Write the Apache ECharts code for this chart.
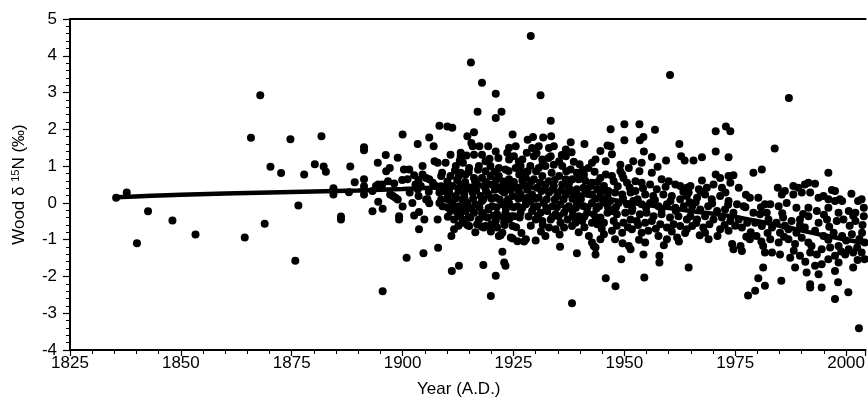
<!DOCTYPE html>
<html>
<head>
<meta charset="utf-8">
<script src="https://cdn.jsdelivr.net/npm/echarts@6/dist/echarts.min.js"></script>
<style>html,body{margin:0;padding:0;background:#fff;}#c{width:868px;height:403px;}</style>
</head>
<body>
<div id="c"></div>
<script>
// Wood d15N samples: [year A.D., value permil]
const samples = [
[1835.4,0.14],[1837.8,0.28],[1840.1,-1.1],[1842.6,-0.23],[1848.1,-0.48],[1853.3,-0.86],[1864.4,-0.94],
[1865.8,1.77],[1867.9,2.93],[1868.9,-0.57],[1870.2,0.98],[1872.6,0.81],[1874.7,1.73],[1875.8,-1.57],
[1876.5,-0.07],[1877.8,0.77],[1880.2,1.05],[1881.7,1.81],[1882.2,0.99],[1882.7,0.85],[1884.4,0.40],
[1884.4,0.23],[1886.1,-0.37],[1886.1,-0.45],[1887.9,0.29],[1888.2,0.99],[1889.2,0.56],[1891.3,1.51],
[1891.3,1.43],[1891.3,0.64],[1891.3,0.23],[1891.3,0.45],[1893.2,-0.23],[1894.4,1.09],[1894.5,0.03],
[1894.5,0.5],[1895.5,-0.16],[1895.5,-2.4],[1896.2,1.3],[1896.3,0.86],[1896.7,0.59],[1897.8,0.19],
[1898.9,1.23],[1898.9,0.09],[1899.2,-0.36],[1899.2,-0.45],[1900,1.86],[1900,-0.1],[1900.3,0.91],
[1900.9,-1.49],[1901.1,0.64],[1901.5,0.91],[1902.2,0.0],[1902.6,-0.34],[1903.4,1.6],[1903.7,-0.72],
[1904.1,0.46],[1904.5,1.0],[1904.7,-1.37],[1904.9,-0.45],[1905.3,0.09],[1906,1.78],[1907,1.54],
[1907.2,1.13],[1907.9,-0.45],[1908,-1.22],[1908.3,2.1],[1908.7,0.73],[1908.7,0.09],[1908.7,0.45],
[1909.7,1.09],[1910.1,2.08],[1911.2,2.04],[1910.8,1.31],[1911,-0.9],[1911.1,-1.85],[1911.6,-0.72],
[1912.7,-1.71],[1913.1,1.36],[1913.1,1.27],[1913.1,0.82],[1913.5,0.09],[1913.5,-0.18],[1913.5,-0.45],
[1914.6,1.81],[1915.4,3.82],[1916.1,1.92],[1915.8,1.54],[1916.9,2.48],[1917.3,1.54],[1917.9,3.27],
[1918.2,-1.69],[1918.3,-0.36],[1918.7,-0.63],[1919.3,1.54],[1919.9,-2.53],[1921,2.97],[1921,2.31],
[1921,-1.98],[1921.7,-0.9],[1922.3,2.48],[1922.5,-1.33],[1923.2,-1.71],[1923.6,0.05],[1924.8,1.86],
[1924.8,-0.97],[1925.9,-1.04],[1927.4,-1.05],[1927.8,-0.99],[1928.9,4.54],[1929.4,1.79],[1930,-1.02],
[1931.1,2.93],[1931.7,1.78],[1932.2,-0.9],[1933.4,2.23],[1933.5,1.81],[1935.5,-1.19],[1936.8,1.45],
[1937.9,1.65],[1938.2,-2.73],[1939.3,-1.37],[1941,1.6],[1942,-0.9],[1943.1,-1.17],[1943.5,-1.4],
[1944.6,1.41],[1945.8,-2.05],[1946.9,2.0],[1946.9,1.54],[1948,-2.27],
[1907.9,1.09],[1897.1,0.95],[1904.5,0.77],[1905.3,0.68],[1908.9,0.82],[1895.4,0.5],[1898.1,0.53],
[1903.6,0.62],[1906,0.64],[1906.8,0.55],[1907.5,0.46],[1894,0.46],[1895,0.41],[1893.2,0.32],
[1897.2,0.23],[1898.4,0.14],[1901.6,0.28],[1903.4,0.37],[1903.6,0.19],[1908.3,0.28],[1909.4,0.32],
[1910.2,0.19],[1905.6,0.1],[1906,-0.01],[1908.3,0.0],[1909,-0.09],[1903.7,-0.25],
[1915.5,1.63],[1924,1.5],[1925.5,1.54],[1914.4,1.29],[1916.1,1.31],[1917.9,1.31],[1918.7,1.13],
[1921,1.4],[1921.6,1.22],[1923.6,1.36],[1924,1.18],[1925.1,1.27],[1927,1.18],[1928,1.36],
[1912,1.0],[1913.6,1.09],[1915,0.95],[1917.2,1.0],[1918.7,0.86],[1919.8,1.0],[1921.7,0.95],
[1923.2,0.91],[1925.5,0.95],[1926.6,1.0],[1928.2,0.86],[1910.8,0.73],[1912.7,0.73],[1914.2,0.77],
[1916.1,0.68],[1917.9,0.68],[1919.8,0.73],[1921.7,0.73],[1924,0.64],[1926.3,0.77],[1927.8,0.68],
[1911.2,0.46],[1913.1,0.5],[1915,0.41],[1916.8,0.5],[1918.3,0.46],[1920.2,0.5],[1922.1,0.41],
[1923.6,0.46],[1925.5,0.41],[1927.4,0.47],[1910.5,0.28],[1912,0.19],[1913.9,0.23],[1915.8,0.28],
[1917.6,0.19],[1919.4,0.23],[1921,0.14],[1922.9,0.28],[1924.8,0.19],[1926.6,0.23],[1928.2,0.14],
[1911.2,0.0],[1912.7,-0.09],[1914.6,0.0],[1916.4,-0.04],[1917.9,0.05],[1920.2,-0.09],[1922.5,-0.04],
[1924,0.0],[1925.9,-0.09],[1927.8,-0.04],[1910.8,-0.22],[1912.4,-0.27],[1914.2,-0.22],[1916.1,-0.27],
[1917.9,-0.27],[1919.4,-0.18],[1921.3,-0.31],[1923.2,-0.27],[1925.1,-0.36],[1926.6,-0.27],
[1911.6,-0.45],[1913.9,-0.49],[1915.3,-0.4],[1917.2,-0.45],[1919.1,-0.4],[1921,-0.49],[1922.9,-0.54],
[1924,-0.45],[1913.5,-0.54],[1915,-0.63],[1916.8,-0.58],[1918.3,-0.67],[1921.3,-0.67],[1922.5,-0.81],
[1924.8,-0.63],[1924.4,-0.94],[1922.1,-0.88],[1922.9,-1.62],[1928.2,1.72],
[1929.2,1.49],[1930.7,1.54],[1933,1.49],[1934.1,1.54],[1936.8,1.27],[1946.2,1.56],[1929.6,1.27],
[1931.5,1.18],[1933.4,1.27],[1935.3,1.13],[1942.7,1.09],[1943.5,1.18],[1945.8,1.13],[1928.8,1.0],
[1930.7,0.95],[1932.2,1.0],[1934.1,1.04],[1936,1.0],[1937.9,0.91],[1939.3,0.82],[1940.9,0.77],
[1944.6,0.68],[1945.8,0.77],[1929.6,0.64],[1931.5,0.73],[1933,0.59],[1935.3,0.73],[1936.8,0.64],
[1938.3,0.64],[1939.7,0.64],[1942.7,0.55],[1928.5,0.46],[1930.3,0.41],[1932.2,0.5],[1934.1,0.46],
[1936,0.5],[1937.5,0.41],[1939.3,0.37],[1940.8,0.41],[1942.4,0.46],[1943.9,0.37],[1945.4,0.46],
[1929.2,0.23],[1930.7,0.14],[1933,0.28],[1934.9,0.19],[1936.8,0.23],[1939,0.19],[1941.2,0.28],
[1942.7,0.23],[1944.6,0.28],[1946.2,0.19],[1928.8,0.05],[1930.3,-0.09],[1931.8,0.0],[1933.8,-0.09],
[1935.6,-0.04],[1937.5,-0.09],[1939.3,0.0],[1940.8,-0.09],[1942.7,0.0],[1944.3,-0.09],[1945.8,0.0],
[1929.2,-0.22],[1931.1,-0.27],[1932.6,-0.22],[1934.5,-0.31],[1936.4,-0.27],[1938.3,-0.22],
[1939.7,-0.36],[1941.6,-0.27],[1943.1,-0.31],[1944.6,-0.4],[1946.2,-0.27],[1930,-0.45],[1931.5,-0.49],
[1933.4,-0.45],[1935.6,-0.54],[1937.2,-0.45],[1939,-0.54],[1940.5,-0.49],[1942.7,-0.54],[1943.9,-0.58],
[1945.4,-0.54],[1933,-0.67],[1934.5,-0.72],[1936.4,-0.67],[1942.7,-1.08],[1943.5,-1.21],[1944.6,-0.99],
[1945.4,-0.85],
[1960.3,3.48],[1950,2.14],[1953.4,2.14],[1956.9,1.99],[1950,1.7],[1953.5,1.7],[1954.3,1.79],[1962.4,1.6],
[1947.2,1.32],[1954.4,1.4],[1962.8,1.27],[1963.6,1.15],[1956.2,1.25],[1959.4,1.15],[1949.1,1.04],
[1952,1.13],[1953.9,1.09],[1949.1,0.86],[1949.5,0.77],[1953.4,0.86],[1956.2,0.82],[1958.4,0.64],
[1960,0.59],[1961.5,0.5],[1962.6,0.46],[1964.1,0.41],[1947.2,0.73],[1947.6,0.59],[1949.8,0.68],
[1950.6,0.55],[1952.5,0.59],[1953.9,0.55],[1955.8,0.5],[1957.3,0.37],[1946.4,0.32],[1947.9,0.28],
[1949.5,0.23],[1951.4,0.28],[1952.5,0.32],[1954.7,0.23],[1956.5,0.19],[1958.8,0.23],[1960.7,0.19],
[1962.6,0.1],[1964.1,0.19],[1946.8,0.05],[1948.7,0.0],[1950.6,-0.04],[1952,0.05],[1953.9,-0.04],
[1955.8,0.0],[1957.7,-0.09],[1959.6,-0.04],[1961.5,-0.13],[1963.4,-0.09],[1947.2,-0.22],[1948.3,-0.31],
[1950.2,-0.27],[1951.7,-0.22],[1953.5,-0.31],[1955,-0.27],[1956.6,-0.36],[1958.4,-0.31],[1960.3,-0.4],
[1962.2,-0.36],[1964.1,-0.45],[1947.6,-0.49],[1949.8,-0.54],[1951.4,-0.45],[1952.8,-0.49],[1954.7,-0.54],
[1956.2,-0.49],[1958.1,-0.58],[1959.6,-0.67],[1961.1,-0.58],[1962.6,-0.63],[1964.1,-0.72],[1947.2,-0.76],
[1949.5,-0.81],[1951.7,-0.72],[1953.9,-0.81],[1955.4,-0.76],[1957.7,-0.9],[1959.6,-0.99],[1961.9,-0.94],
[1947.9,-0.99],[1951,-1.17],[1951.4,-1.26],[1954.7,-1.08],[1954.3,-1.4],[1957.9,-1.44],[1957.9,-1.62],
[1949.3,-1.53],[1954.5,-2.03],[1964.5,-1.76],
[1972.9,2.08],[1973.9,1.95],[1970.6,1.95],[1970.6,1.4],[1967.5,1.24],[1965.6,1.15],[1973.5,1.24],
[1979.1,0.82],[1981,0.91],[1967.5,0.61],[1970.6,0.77],[1971.6,0.68],[1973.5,0.73],[1974.6,0.75],
[1964.9,0.46],[1966.8,0.37],[1968.6,0.41],[1970.1,0.5],[1972,0.41],[1973.9,0.55],[1975.8,0.41],
[1978.3,0.14],[1980.2,0.14],[1981.7,-0.04],[1964.5,0.28],[1966.4,0.14],[1968.2,0.23],[1969.7,0.1],
[1971.6,0.19],[1973.5,0.05],[1975.4,-0.04],[1976.9,-0.09],[1965.3,-0.09],[1967.1,-0.18],[1968.9,-0.09],
[1970.9,-0.22],[1972.7,-0.18],[1974.6,-0.27],[1979.1,-0.27],[1980.6,-0.31],[1982.1,-0.27],
[1964.9,-0.36],[1966.4,-0.45],[1968.2,-0.36],[1970.1,-0.45],[1972,-0.4],[1973.9,-0.49],[1975.8,-0.45],
[1977.7,-0.54],[1979.5,-0.54],[1981,-0.63],[1965.3,-0.63],[1967.8,-0.67],[1968.2,-0.81],[1971.6,-0.72],
[1973.5,-0.76],[1976.5,-0.67],[1969,-0.99],[1974.3,-1.12],[1974.6,-1.26],[1976.2,-1.17],[1976.5,-1.31],
[1978.3,-0.99],[1979.8,-0.9],[1981.3,-1.17],[1981.7,-1.35],[1981.3,-1.76],[1980.2,-2.05],[1979.5,-2.39],
[1977.9,-2.52],[1981.7,-2.25],
[1987.1,2.85],[1983.9,1.48],[1996,0.82],[1984.6,0.41],[1985.5,0.23],[1988.1,0.46],[1989.2,0.41],
[1990.7,0.5],[1991.5,0.55],[1993,0.52],[1997.5,0.32],[1998.6,0.1],[2002.7,0.05],[2003.5,0.1],
[1988.1,0.23],[1990,0.28],[1991.9,0.28],[1993.8,0.14],[1994.9,0.19],[1996,0.1],[1997.5,0.05],[1999.1,0.05],
[1982.9,-0.04],[1984.8,-0.09],[1986.6,0.0],[1988.8,-0.13],[1991.5,-0.13],[1993.4,-0.22],[1996,-0.13],
[1998.3,-0.27],[2000.6,-0.22],[2002.1,-0.27],[2004,-0.13],
[1982.5,-0.45],[1984.3,-0.54],[1985.8,-0.4],[1987.7,-0.49],[1989.6,-0.45],[1991.5,-0.36],[1993.8,-0.54],
[1995.7,-0.45],[1997.9,-0.49],[1999.4,-0.45],[2002.1,-0.49],[2004,-0.36],
[1983.3,-0.67],[1985.1,-0.81],[1987,-0.72],[1988.8,-0.81],[1990.7,-0.67],[1993,-0.76],[1994.9,-0.9],
[1997.2,-0.81],[1999.1,-0.9],[2001.3,-0.85],[2003.6,-0.81],
[1982.9,-0.99],[1984.8,-1.08],[1987,-0.99],[1988.5,-1.12],[1991.5,-1.08],[1992.2,-1.17],[1994.5,-1.26],
[1996.4,-1.21],[1998.3,-1.17],[2000.6,-1.26],[2002.5,-1.21],[2004.2,-1.08],
[1983.3,-1.35],[1985.1,-1.4],[1987.4,-1.49],[1989.6,-1.44],[1991.9,-1.35],[1993,-1.71],[1994.5,-1.67],
[1996,-1.53],[1997.5,-1.44],[1999.8,-1.4],[2001.6,-1.35],
[1988.5,-1.76],[1991.1,-1.89],[1993.8,-1.94],[1997.5,-1.85],[2001.6,-1.76],
[1985.4,-2.12],[1991.9,-2.21],[1991.9,-2.3],[1994.5,-2.3],[1998.2,-2.16],[1997.5,-2.61],[2000.5,-2.43],
[2002.9,-3.41],[2004.2,-1.53],
// denser band, 1910-1947
[1911.8,0.88],[1914.9,0.84],[1917.0,0.9],[1920.7,0.85],[1923.9,0.87],[1927.1,0.83],[1930.1,0.86],
[1933.6,0.82],[1936.9,0.86],[1940.6,0.9],
[1910.1,0.58],[1912.3,0.62],[1914.1,0.57],[1916.3,0.6],[1918.9,0.56],[1921.1,0.62],[1922.8,0.58],
[1925.1,0.57],[1927.0,0.6],[1929.0,0.58],[1931.0,0.55],[1934.3,0.62],[1937.6,0.56],[1941.2,0.6],[1944.0,0.57],
[1909.8,0.36],[1912.6,0.33],[1914.3,0.37],[1916.6,0.34],[1918.8,0.33],[1920.8,0.36],[1922.4,0.33],
[1924.3,0.35],[1926.2,0.32],[1928.1,0.36],[1931.3,0.32],[1933.7,0.36],[1935.8,0.34],[1938.2,0.33],
[1941.6,0.36],[1944.9,0.34],
[1910.2,0.1],[1911.9,0.12],[1914.0,0.1],[1915.9,0.12],[1918.2,0.1],[1920.0,0.12],[1921.9,0.09],
[1923.8,0.1],[1926.1,0.12],[1927.6,0.09],[1929.8,0.12],[1932.5,0.1],[1934.3,0.09],[1936.3,0.1],
[1938.3,0.11],[1940.2,0.1],[1943.6,0.12],[1945.1,0.09],
[1910.1,-0.12],[1911.7,-0.14],[1913.8,-0.11],[1915.5,-0.15],[1917.3,-0.12],[1919.4,-0.14],[1921.2,-0.12],
[1923.3,-0.15],[1925.0,-0.12],[1927.0,-0.13],[1929.6,-0.12],[1932.4,-0.14],[1934.8,-0.12],[1936.9,-0.15],
[1939.1,-0.13],[1941.7,-0.12],[1943.7,-0.15],[1946.3,-0.12],
[1910.2,-0.38],[1913.0,-0.36],[1914.9,-0.39],[1918.0,-0.37],[1920.5,-0.35],[1922.6,-0.39],[1924.5,-0.36],
[1926.4,-0.4],[1928.4,-0.37],[1930.5,-0.35],[1933.8,-0.38],[1935.2,-0.36],[1938.3,-0.38],[1941.0,-0.37],
[1943.6,-0.42],
[1912.6,-0.62],[1914.6,-0.6],[1917.8,-0.64],[1920.0,-0.58],[1923.0,-0.6],[1925.6,-0.66],[1928.9,-0.62],
[1931.6,-0.6],[1938.2,-0.63],[1941.0,-0.66],[1944.9,-0.7],
[1916.4,-0.8],[1919.9,-0.78],[1926.8,-0.82],[1931.2,-0.78],[1935.4,-0.86],[1939.7,-0.8],
[1912.9,1.15],[1919.6,1.2],[1926.2,1.12],[1931.6,1.08],[1938.6,1.12],
[1932.9,1.22],[1935.9,1.3],[1939.9,1.05],[1941.9,0.95],[1943.3,0.85],[1938.1,1.38],[1930.2,1.35],
[1902.6,0.75],[1899.9,0.62],[1905.9,0.3],[1902.9,0.5],
// denser band, 1947-2004
[1951.0,0.95],[1957.5,0.98],[1948.5,0.45],[1951.2,0.42],[1954.2,0.4],[1959.3,0.44],[1963.3,0.3],
[1949.7,0.12],[1953.0,0.1],[1956.9,0.08],[1960.4,0.05],[1964.7,0.02],
[1948.1,-0.12],[1951.8,-0.16],[1954.9,-0.13],[1958.4,-0.18],[1961.6,-0.22],
[1948.3,-0.62],[1950.8,-0.66],[1953.1,-0.6],[1957.1,-0.7],[1960.7,-0.78],[1963.7,-0.82],
[1949.6,-1.1],[1953.3,-1.0],[1958.9,-1.15],[1962.3,-1.05],
[1967.2,0.3],[1972.8,0.28],[1977.4,0.22],[1966.1,0.02],[1969.8,-0.02],[1973.4,-0.05],[1977.3,-0.12],
[1980.8,-0.12],[1966.2,-0.55],[1969.2,-0.58],[1972.6,-0.6],[1975.0,-0.62],[1978.5,-0.8],[1982.3,-0.82],
[1967.0,-0.88],[1971.0,-0.9],[1977.5,-0.92],[1980.9,-1.05],
[1986.2,0.32],[1996.8,0.35],[2001.2,0.25],[1985.6,-0.28],[1990.3,-0.3],[1995.0,-0.32],[2001.6,-0.35],
[1986.2,-0.62],[1989.6,-0.6],[1996.2,-0.65],[2000.8,-0.62],[2003.7,-0.6],
[1986.0,-0.92],[1990.0,-0.95],[1996.0,-1.0],[2000.0,-1.02],[2003.0,-0.98],
[1988.2,-1.3],[1993.4,-1.4],[1998.9,-1.32],[2003.5,-1.35],[1990.8,-1.6],[1998.3,-1.62],[2002.6,-1.55]
];

// Smoothed trend through the samples
const trendYears  = [1835.4, 1850, 1870, 1890, 1900, 1910, 1918, 1924, 1930, 1936, 1942, 1948, 1955, 1965, 1975, 1985, 1995, 2004.4];
const trendValues = [0.15, 0.22, 0.28, 0.34, 0.38, 0.43, 0.47, 0.47, 0.4, 0.3, 0.19, 0.07, -0.06, -0.22, -0.38, -0.62, -0.88, -1.1];

const xTickLabels = [1825, 1850, 1875, 1900, 1925, 1950, 1975, 2000];
const yTickLabels = [-4, -3, -2, -1, 0, 1, 2, 3, 4, 5];

const font = 'Liberation Sans, Arial, Helvetica, sans-serif';
const chart = echarts.init(document.getElementById('c'), null, {renderer: 'canvas'});
chart.setOption({
  animation: false,
  backgroundColor: '#fff',
  grid: {left: 70, right: 0, top: 19, bottom: 52, containLabel: false},
  xAxis: [{
    type: 'value',
    min: xTickLabels[0], max: 2004.4, interval: 25,
    name: 'Year (A.D.)', nameLocation: 'middle', nameGap: 31,
    nameTextStyle: {color: '#000', fontSize: 17, fontFamily: font, padding: [0, 18, 0, 0]},
    axisLine: {show: true, onZero: false, lineStyle: {color: '#000', width: 2}},
    axisTick: {show: true, length: 6, lineStyle: {color: '#000', width: 1.2}},
    minorTick: {show: true, splitNumber: 5, length: 4, lineStyle: {color: '#000', width: 1}},
    axisLabel: {color: '#000', fontSize: 17, fontFamily: font, margin: 5, showMaxLabel: false,
      formatter: v => xTickLabels.includes(v) ? String(v) : ''},
    splitLine: {show: false}
  }, {
    type: 'value', position: 'top',
    min: xTickLabels[0], max: 2004.4,
    axisLine: {show: true, onZero: false, lineStyle: {color: '#000', width: 2}},
    axisTick: {show: false}, axisLabel: {show: false}, splitLine: {show: false}
  }],
  yAxis: {
    type: 'value',
    min: yTickLabels[0], max: yTickLabels[yTickLabels.length - 1], interval: 1,
    name: 'Wood δ {sup|15}N (‰)', nameLocation: 'middle', nameGap: 41,
    nameTextStyle: {color: '#000', fontSize: 17, fontFamily: font,
      rich: {sup: {fontSize: 11, fontFamily: font, color: '#000', verticalAlign: 'top', padding: [0, 0, 8, 0]}}},
    axisLine: {show: true, onZero: false, lineStyle: {color: '#000', width: 2}},
    axisTick: {show: true, length: 7, lineStyle: {color: '#000', width: 1.2}},
    minorTick: {show: true, splitNumber: 5, length: 4, lineStyle: {color: '#000', width: 1}},
    axisLabel: {color: '#000', fontSize: 17, fontFamily: font, margin: 13},
    splitLine: {show: false}
  },
  series: [{
    type: 'scatter',
    data: samples,
    symbol: 'circle', symbolSize: 8,
    itemStyle: {color: '#000', opacity: 1},
    silent: true
  }, {
    type: 'line',
    data: trendYears.map((y, i) => [y, trendValues[i]]),
    smooth: 0.4, showSymbol: false,
    lineStyle: {color: '#000', width: 4.5},
    silent: true, z: 3
  }]
});
</script>
</body>
</html>
